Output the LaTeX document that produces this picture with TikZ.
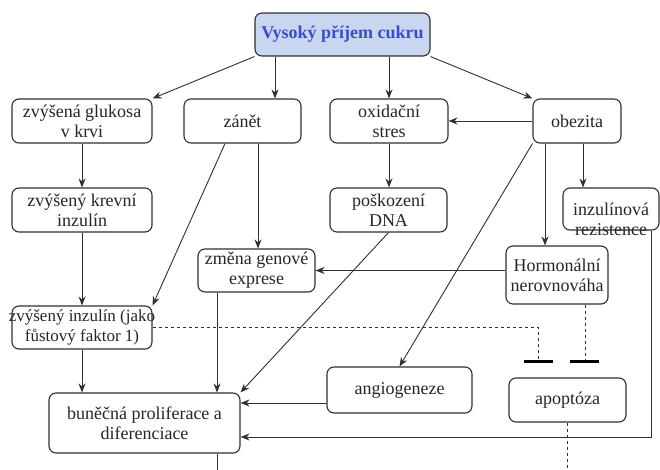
\documentclass[tikz,border=0pt]{standalone}
\usepackage{fontspec}
\setmainfont{Liberation Serif}
\usetikzlibrary{arrows.meta}
\definecolor{boxfill}{HTML}{C8D7EF}
\definecolor{titleblue}{HTML}{3A4CCB}
\definecolor{edgecol}{HTML}{303030}
\begin{document}
\begin{tikzpicture}[x=1bp,y=-1bp,
  box/.style={draw=edgecol, line width=1.1bp, rounded corners=7bp, inner sep=0pt, align=center,
    text=black!85, font=\fontsize{18bp}{20bp}\selectfont},
  arr/.style={draw=edgecol, line width=0.9bp, -{Stealth[length=9bp,width=7bp]}},
  plain/.style={draw=edgecol, line width=0.9bp},
  inh/.style={draw=edgecol, line width=0.8bp, dash pattern=on 3bp off 3bp},
  tbar/.style={draw=black, line width=3bp}]
\useasboundingbox (0,0) rectangle (660,470);
\fill[white] (0,0) rectangle (660,470);

% nodes
\node[box, fill=boxfill, text=titleblue, minimum width=175bp, minimum height=43bp,
  font=\fontsize{18bp}{20bp}\selectfont\bfseries] (top) at (342.5,34.5) {Vysoký příjem cukru};
\node[box, minimum width=140bp, minimum height=44bp] (gluk) at (82,121) {zvýšená glukosa\\v krvi};
\node[box, minimum width=117bp, minimum height=44bp] (zanet) at (242.5,121) {zánět};
\node[box, minimum width=118bp, minimum height=44bp] (oxid) at (389,121) {oxidační\\stres};
\node[box, minimum width=88bp, minimum height=44bp] (obez) at (577,121) {obezita};
\node[box, minimum width=140bp, minimum height=44bp] (krev) at (82,210) {zvýšený krevní\\inzulín};
\node[box, minimum width=117bp, minimum height=44bp] (dna) at (388.5,210) {poškození\\DNA};
\node[box, minimum width=96bp, minimum height=42bp] (rez) at (611,209) {};
\node[box, draw=none, fill=none] (reztext) at (611,219) {inzulínová\\rezistence};
\node[box, minimum width=117bp, minimum height=43bp] (zmena) at (256.5,270.5) {změna genové\\exprese};
\node[box, minimum width=102bp, minimum height=58bp] (horm) at (557,275) {Hormonální\\nerovnováha};
\node[box, minimum width=140bp, minimum height=43bp, font=\fontsize{17bp}{20bp}\selectfont] (zins) at (82,327.5)
  {\makebox[140bp][c]{zvýšený inzulín (jako}\\fůstový faktor 1)};
\node[box, minimum width=191bp, minimum height=60bp] (bun) at (144.5,423) {buněčná proliferace a\\diferenciace};
\node[box, minimum width=145bp, minimum height=46bp] (angio) at (399.5,390) {angiogeneze};
\node[box, minimum width=117bp, minimum height=44bp] (apop) at (567.5,400) {apoptóza};

% helper coordinates
\coordinate (xz) at (275,0);
\coordinate (xo) at (583,0);
\coordinate (xh) at (545,0);
\coordinate (xg) at (225,0);
\coordinate (xzm) at (258,0);
\coordinate (xb) at (217,0);
\coordinate (ya) at (0,403);
\coordinate (rc) at (651,437);
\coordinate (d1) at (538,361);
\coordinate (d2) at (585,361);
\coordinate (bot1) at (217,470);
\coordinate (bot2) at (567.5,470);

% connectors
\draw[arr] (top.south west) -- (gluk.north east);
\draw[arr] (top.south -| xz) -- (zanet.north -| xz);
\draw[arr] (top.south -| oxid.north) -- (oxid.north);
\draw[arr] (top.south east) -- (obez.north west);
\draw[arr] (obez.west) -- (oxid.east);
\draw[arr] (oxid.south) -- (oxid.south |- dna.north);
\draw[arr] (obez.south -| xo) -- (rez.north -| xo);
\draw[arr] (obez.south -| xh) -- (horm.north -| xh);
\draw[arr] (obez.south west) -- (angio.north);
\draw[arr] (gluk.south) -- (krev.north);
\draw[arr] (krev.south) -- (zins.north);
\draw[arr] (zins.south) -- (zins.south |- bun.north);
\draw[arr] (zanet.south -| xg) -- (zins.north east);
\draw[arr] (zanet.south -| xzm) -- (zmena.north -| xzm);
\draw[arr] (horm.west |- zmena.east) -- (zmena.east);
\draw[arr] (dna.south) -- (bun.north east);
\draw[arr] (zmena.south -| xb) -- (bun.north -| xb);
\draw[arr] (angio.west |- ya) -- (bun.east |- ya);
\draw[arr] (rez.south -| rc) -- (rc) -- (bun.east |- rc);
\draw[plain] (bun.south -| bot1) -- (bot1);

% inhibitions
\draw[inh] (zins.east) -| (d1);
\draw[tbar] ([xshift=-14bp]d1) -- ([xshift=15bp]d1);
\draw[inh] (horm.south -| d2) -- (d2);
\draw[tbar] ([xshift=-15bp]d2) -- ([xshift=14bp]d2);
\draw[inh] (apop.south) -- (bot2);
\end{tikzpicture}
\end{document}
